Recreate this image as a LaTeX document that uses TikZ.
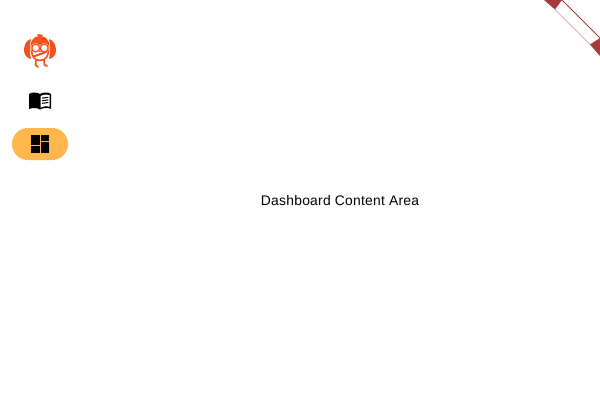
\documentclass[tikz,border=0pt]{standalone}
\usepackage{fontspec}
\setmainfont{Liberation Sans}
\usetikzlibrary{positioning,calc}
\definecolor{navpill}{HTML}{FFB74D}
\definecolor{logoorange}{HTML}{F4511E}
\definecolor{bannerred}{HTML}{A53A3A}
\definecolor{banneredge}{HTML}{E3C4C4}
\definecolor{bannerfaint}{HTML}{F6EEEE}
\tikzset{
  navitem/.style = {fill = navpill, rounded corners = 11.9pt, minimum width = 42pt, minimum height = 24pt, inner sep = 0pt},
  tile/.style = {fill = black, draw = none},
  logo/.style = {line width = 1pt, draw = logoorange, line cap = round},
  label/.style = {font = \fontsize{10.4pt}{12pt}\selectfont\addfontfeatures{LetterSpace = 1.8}, text = black, inner sep = 0pt},
}
\begin{document}
\begin{tikzpicture}[x = 0.75pt, y = -0.75pt]
    \useasboundingbox (0,0) rectangle (600,400);
    % nav rail
    \node[navitem] (dash) at (40,144) {};
    \fill[tile] (31,134.5) rectangle (39.5,144.8);
    \fill[tile] (40.5,134.5) rectangle (49,140.6);
    \fill[tile] (31,146.2) rectangle (39.5,153.3);
    \fill[tile] (40.5,142) rectangle (49,153.3);
    % book
    \begin{scope}[shift = {(28,88)}]
      \fill (1,6) .. controls (3,4.6) and (5,4.5) .. (6.5,4.5)
        .. controls (8.5,4.5) and (10.5,5) .. (12,6)
        .. controls (13.5,5) and (15.5,4.5) .. (17.5,4.5)
        .. controls (19,4.5) and (21.5,4.7) .. (23,6)
        -- (23,20.8) .. controls (21,19.9) and (19,19.8) .. (17.5,20)
        .. controls (15.5,20) and (13.5,20.6) .. (12,21.5)
        .. controls (10.5,20.4) and (8.5,20) .. (6.5,20)
        .. controls (5,20) and (3,20.3) .. (1,21) -- cycle;
      \fill[white] (12.6,8) .. controls (14.5,7.1) and (16.5,6.6) .. (18,6.6)
        .. controls (19.5,6.6) and (20.5,6.8) .. (21.6,7.1)
        -- (21.6,18.7) .. controls (20,18.3) and (19,18.2) .. (18,18.2)
        .. controls (16.5,18.2) and (14.5,18.8) .. (12.6,19.6) -- cycle;
      \foreach \ypos in {9.6,12.2,14.8}
        \draw[line width = 0.8pt] (14.2,\ypos+0.5) -- (20.4,\ypos-0.3);
    \end{scope}
    % logo
    \fill[logoorange] (31,39) .. controls (26,40.5) and (24,45.5) .. (24,50)
      .. controls (24,54) and (26,58) .. (31,59)
      .. controls (29.5,54) and (29.5,45) .. (31,39) -- cycle;
    \fill[logoorange] (49,39) .. controls (54,40.5) and (56,45.5) .. (56,50)
      .. controls (56,54) and (54,58) .. (49,59)
      .. controls (50.5,54) and (50.5,45) .. (49,39) -- cycle;
    \fill[logoorange] (30.5,47) .. controls (30.5,40) and (34,36) .. (40,36)
      .. controls (46,36) and (49.5,40) .. (49.5,47) -- (49,52) -- (31,52) -- cycle;
    \draw[logo, line width = 1.3pt] (31.5,50) .. controls (31.5,55) and (34,60.5) .. (40,60.5)
      .. controls (46,60.5) and (48.5,55) .. (48.5,50);
    \fill[white] (33,52) -- (47,52) -- (47,54) .. controls (45,58) and (43,59.5) .. (40,59.5)
      .. controls (37,59.5) and (34,58) .. (33,54) -- cycle;
    \fill[white] (35.7,48) circle [radius = 4.9];
    \fill[white] (44.3,48) circle [radius = 4.9];
    \draw[logo] (35.7,48) circle [radius = 3.9];
    \draw[logo] (44.3,48) circle [radius = 3.9];
    \draw[logo, line width = 1.5pt] (33.5,56.5) -- (46,52);
    \draw[logo, line width = 1.3pt] (38,35) -- (42,35.5);
    \draw[logo, line width = 1.3pt] (36,60) -- (35.5,65) -- (38,67);
    \draw[logo, line width = 1.3pt] (44,60) -- (44.5,65) -- (47,66);
    % debug corner
    \coordinate (tl) at (562,0);
    \coordinate (bl) at (555,9.5);
    \coordinate (tr) at (600,38);
    \coordinate (br) at (590,44.5);
    \foreach \pos in {0.25,0.5,0.75}
      \draw[bannerfaint, line width = 0.5pt] ($(bl)!\pos!(br)$) -- ($(tl)!\pos!(tr)$);
    \draw[banneredge, line width = 0.9pt] (bl) -- (br);
    \draw[bannerred, line width = 0.6pt] (tl) -- (tr);
    \fill[bannerred] (544,0) -- (tl) -- (bl) -- cycle;
    \fill[bannerred] (tr) -- (600,56) -- (br) -- cycle;
    % content
    \node[label] (content) at (340,200.8) {Dashboard Content Area};
\end{tikzpicture}
\end{document}
